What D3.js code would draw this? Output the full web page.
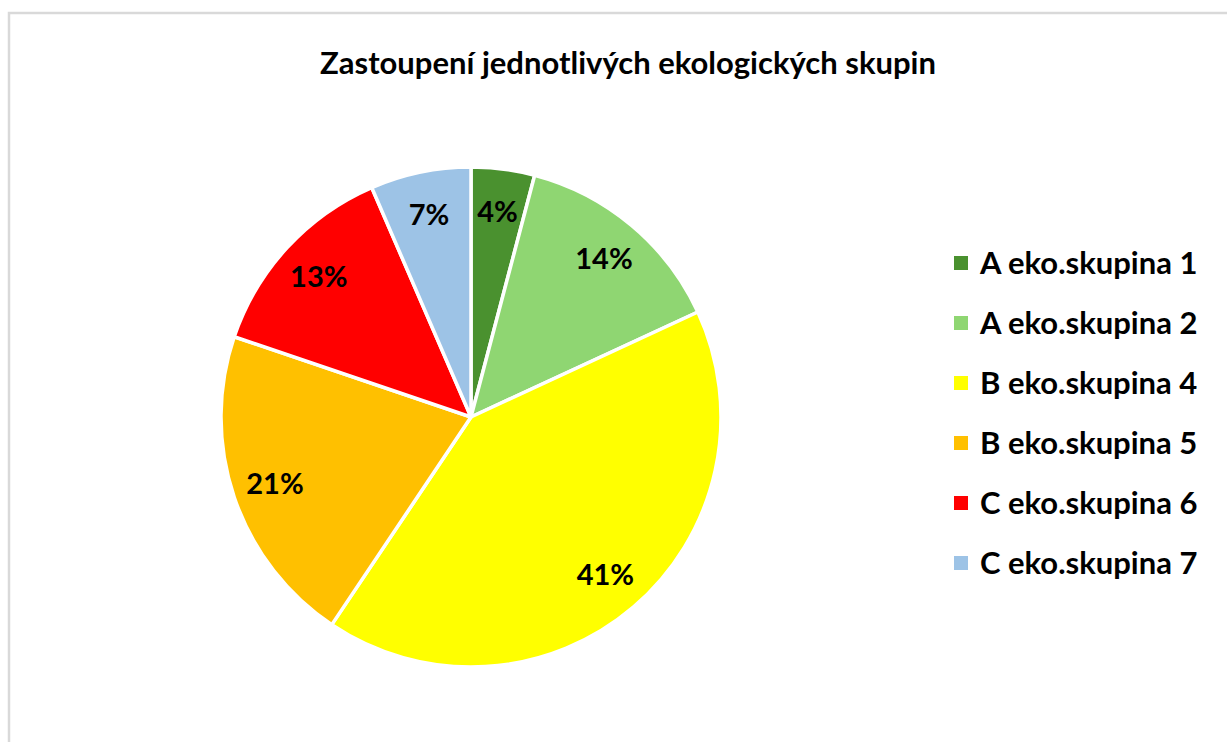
<!DOCTYPE html>
<html>
<head>
<meta charset="utf-8">
<script src="https://cdn.jsdelivr.net/npm/d3@7"></script>
<style>
  body { margin: 0; background: #fff; }
  svg { display: block; }
</style>
</head>
<body>
<div id="chart"></div>
<script>
var width = 1227;
var height = 742;

// data
var title = "Zastoupení jednotlivých ekologických skupin";
var groups = ["A eko.skupina 1", "A eko.skupina 2", "B eko.skupina 4", "B eko.skupina 5", "C eko.skupina 6", "C eko.skupina 7"];
var shares = [4.1, 14.0, 41.3, 20.8, 13.3, 6.5];
var colors = ["#4a912f", "#8fd672", "#ffff00", "#ffc000", "#ff0000", "#9dc3e6"];

var cx = 471, cy = 417, radius = 250;

var svg = d3.select("#chart")
  .append("svg")
  .attr("width", width)
  .attr("height", height);

// chart frame
svg.append("path")
  .attr("d", "M9," + height + " V13 H" + width)
  .attr("fill", "none")
  .attr("stroke", "#d9d9d9")
  .attr("stroke-width", 2.5);

svg.append("text")
  .attr("x", 628)
  .attr("y", 74)
  .attr("text-anchor", "middle")
  .attr("font-family", "Lato, 'Open Sans', sans-serif")
  .attr("font-weight", "bold")
  .attr("font-size", 31)
  .attr("fill", "#000")
  .text(title);

var pie = d3.pie().sort(null).value(function(d){ return d; });
var arcs = pie(shares);
var arc = d3.arc().innerRadius(0).outerRadius(radius);
var labelArc = d3.arc().innerRadius(207).outerRadius(207);
var total = d3.sum(shares);

var g = svg.append("g")
  .attr("transform", "translate(" + cx + "," + cy + ")");

g.selectAll("path")
  .data(arcs)
  .enter()
  .append("path")
  .attr("d", arc)
  .attr("fill", function(d, i){ return colors[i]; })
  .attr("stroke", "#fff")
  .attr("stroke-width", 3.5)
  .attr("stroke-linejoin", "round");

g.selectAll("text")
  .data(arcs)
  .enter()
  .append("text")
  .attr("transform", function(d){ return "translate(" + labelArc.centroid(d) + ")"; })
  .attr("text-anchor", "middle")
  .attr("dy", "0.36em")
  .attr("font-family", "Lato, 'Open Sans', sans-serif")
  .attr("font-weight", "bold")
  .attr("font-size", 29)
  .attr("fill", "#000")
  .text(function(d){ return Math.round(d.value / total * 100) + "%"; });

// legend
var legendY = d3.scalePoint()
  .domain(groups)
  .range([263, 563]);

var legend = svg.selectAll(".legend")
  .data(groups)
  .enter()
  .append("g")
  .attr("class", "legend")
  .attr("transform", function(d){ return "translate(954," + legendY(d) + ")"; });

legend.append("rect")
  .attr("x", 0)
  .attr("y", -7)
  .attr("width", 14)
  .attr("height", 14)
  .attr("fill", function(d, i){ return colors[i]; });

legend.append("text")
  .attr("x", 26)
  .attr("dy", "0.36em")
  .attr("font-family", "Lato, 'Open Sans', sans-serif")
  .attr("font-weight", "bold")
  .attr("font-size", 31)
  .attr("fill", "#000")
  .text(function(d){ return d; });
</script>
</body>
</html>
